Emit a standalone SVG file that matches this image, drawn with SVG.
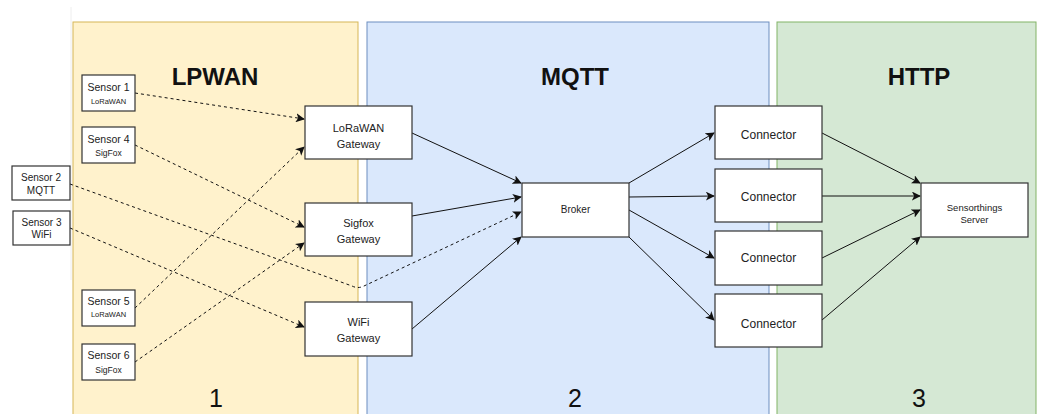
<svg xmlns="http://www.w3.org/2000/svg" width="1041" height="414" viewBox="0 0 1041 414">
<defs>
<style>
.lane{stroke-width:1}
.box{fill:#fff;stroke:#333;stroke-width:1.2}
.t{font-family:"Liberation Sans",Arial,sans-serif;fill:#222;text-anchor:middle}
.title{font-family:"Liberation Sans",Arial,sans-serif;font-weight:bold;font-size:24px;fill:#111;text-anchor:middle}
.num{font-family:"Liberation Sans",Arial,sans-serif;font-size:25px;fill:#111;text-anchor:middle}
.e{fill:none;stroke:#111;stroke-width:1}
.d{stroke-dasharray:3 3}
</style>
<marker id="arr" viewBox="0 0 10 10" refX="9" refY="5" markerWidth="9" markerHeight="9" markerUnits="userSpaceOnUse" orient="auto">
<path d="M0,0 L10,5 L0,10 L2.5,5 Z" fill="#111"/>
</marker>
</defs>
<rect width="1041" height="414" fill="#fff"/>
<line x1="71" y1="7" x2="71" y2="280" stroke="#eee" stroke-width="1"/>
<g id="lane-lpwan">
<rect class="lane" x="73" y="22" width="285" height="400" fill="#fff2cc" stroke="#d6b656"/>
<text class="title" x="215" y="85">LPWAN</text>
<text class="num" x="216" y="407">1</text>
</g>
<g id="lane-mqtt">
<rect class="lane" x="367" y="22" width="402" height="400" fill="#dae8fc" stroke="#6c8ebf"/>
<text class="title" x="575" y="85">MQTT</text>
<text class="num" x="575" y="407">2</text>
</g>
<g id="lane-http">
<rect class="lane" x="777" y="22" width="259" height="400" fill="#d5e8d4" stroke="#82b366"/>
<text class="title" x="919" y="85">HTTP</text>
<text class="num" x="919" y="407">3</text>
</g>
<g id="connectors">
<path class="e d" d="M135,93 L304,119" marker-end="url(#arr)"/>
<path class="e d" d="M135,145 L304,227" marker-end="url(#arr)"/>
<path class="e d" d="M70,184 L352,286 Q358,289 364,286 L521,212" marker-end="url(#arr)"/>
<path class="e d" d="M70,228 L304,327" marker-end="url(#arr)"/>
<path class="e d" d="M135,308 L304,147" marker-end="url(#arr)"/>
<path class="e d" d="M135,362 L304,243" marker-end="url(#arr)"/>
<path class="e" d="M412,133 L521,183" marker-end="url(#arr)"/>
<path class="e" d="M412,216 L521,197" marker-end="url(#arr)"/>
<path class="e" d="M412,329 L521,237" marker-end="url(#arr)"/>
<path class="e" d="M629,183 L714,133" marker-end="url(#arr)"/>
<path class="e" d="M629,197 L714,196" marker-end="url(#arr)"/>
<path class="e" d="M629,210 L714,258" marker-end="url(#arr)"/>
<path class="e" d="M629,237 L714,320" marker-end="url(#arr)"/>
<path class="e" d="M822,133 L920,183" marker-end="url(#arr)"/>
<path class="e" d="M822,196 L920,196" marker-end="url(#arr)"/>
<path class="e" d="M822,258 L920,210" marker-end="url(#arr)"/>
<path class="e" d="M822,320 L920,237" marker-end="url(#arr)"/>
</g>
<g id="sensor1"><rect class="box" x="82" y="75" width="53" height="36"/><text class="t" x="108.5" y="91" font-size="10.5">Sensor 1</text><text class="t" x="108.5" y="104" font-size="7.5">LoRaWAN</text></g>
<g id="sensor4"><rect class="box" x="82" y="127" width="53" height="36"/><text class="t" x="108.5" y="143" font-size="10.5">Sensor 4</text><text class="t" x="108.5" y="156" font-size="8.5">SigFox</text></g>
<g id="sensor2"><rect class="box" x="12" y="166" width="58" height="34"/><text class="t" x="41" y="181" font-size="10">Sensor 2</text><text class="t" x="41" y="194" font-size="10">MQTT</text></g>
<g id="sensor3"><rect class="box" x="13" y="211" width="57" height="34"/><text class="t" x="41.5" y="226" font-size="10">Sensor 3</text><text class="t" x="41.5" y="238" font-size="10">WiFi</text></g>
<g id="sensor5"><rect class="box" x="82" y="290" width="53" height="36"/><text class="t" x="108.5" y="305" font-size="10.5">Sensor 5</text><text class="t" x="108.5" y="317" font-size="7.5">LoRaWAN</text></g>
<g id="sensor6"><rect class="box" x="82" y="344" width="53" height="36"/><text class="t" x="108.5" y="359" font-size="10.5">Sensor 6</text><text class="t" x="108.5" y="373" font-size="8.5">SigFox</text></g>
<g id="gw-lora"><rect class="box" x="305" y="106" width="107" height="53"/><text class="t" x="358.5" y="132" font-size="11">LoRaWAN</text><text class="t" x="358.5" y="148" font-size="11">Gateway</text></g>
<g id="gw-sigfox"><rect class="box" x="305" y="203" width="107" height="53"/><text class="t" x="358.5" y="227" font-size="11">Sigfox</text><text class="t" x="358.5" y="243" font-size="11">Gateway</text></g>
<g id="gw-wifi"><rect class="box" x="305" y="302" width="107" height="54"/><text class="t" x="358.5" y="326" font-size="11">WiFi</text><text class="t" x="358.5" y="342" font-size="11">Gateway</text></g>
<g id="broker"><rect class="box" x="522" y="183" width="107" height="54"/><text class="t" x="575.5" y="213" font-size="10">Broker</text></g>
<g id="conn1"><rect class="box" x="715" y="106" width="107" height="53"/><text class="t" x="768.5" y="139" font-size="12" fill="#333">Connector</text></g>
<g id="conn2"><rect class="box" x="715" y="169" width="107" height="53"/><text class="t" x="768.5" y="201" font-size="12" fill="#333">Connector</text></g>
<g id="conn3"><rect class="box" x="715" y="231" width="107" height="54"/><text class="t" x="768.5" y="262" font-size="12" fill="#333">Connector</text></g>
<g id="conn4"><rect class="box" x="715" y="294" width="107" height="53"/><text class="t" x="768.5" y="328" font-size="12" fill="#333">Connector</text></g>
<g id="server"><rect class="box" x="921" y="183" width="107" height="54"/><text class="t" x="974.5" y="211" font-size="9.5">Sensorthings</text><text class="t" x="974.5" y="223" font-size="9.5">Server</text></g>
</svg>
